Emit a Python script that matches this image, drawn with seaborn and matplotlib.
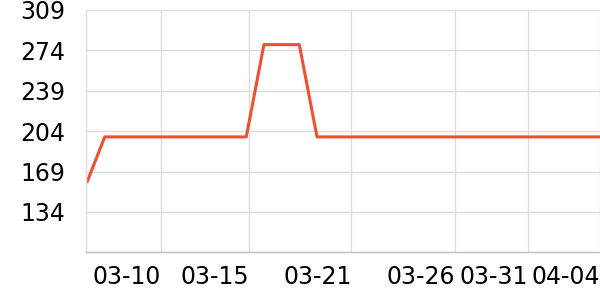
import matplotlib
matplotlib.use("Agg")
import matplotlib.pyplot as plt
import seaborn as sns
import pandas as pd

# data (categorical index positions, one per sample)
idx = list(range(30))
values = [160, 199, 199, 199, 199, 199, 199, 199, 199, 199,
          279, 279, 279, 199, 199, 199, 199, 199, 199, 199,
          199, 199, 199, 199, 199, 199, 199, 199, 199, 199]
x_tick_labels = ["03-10", "03-15", "03-21", "03-26", "03-31", "04-04"]
x_tick_pos = [4.16, 9.14, 14.95, 20.8, 24.93, 29.0]
y_ticks = [134, 169, 204, 239, 274, 309]

df = pd.DataFrame({"i": idx, "v": values})

sns.set_theme(style="white")
plt.rcParams['font.family'] = ['DejaVu Sans']

fig = plt.figure(figsize=(6, 3), dpi=100)
ax = fig.add_axes([86/600, 1 - 252.3/300, 1 - 86/600, (252.3 - 10)/300])
sns.lineplot(data=df, x="i", y="v", ax=ax, color="#f0502f", linewidth=2.2)

ax.set_xlim(-0.06, 29.0)
ax.set_ylim(99, 309)
ax.set_yticks(y_ticks)
ax.set_yticklabels([str(t) for t in y_ticks])
ax.set_xticks(x_tick_pos)
ax.set_xticklabels(x_tick_labels, ha="right")
ax.set_xlabel("")
ax.set_ylabel("")

ax.grid(True, color="#dddddd", linewidth=1)
ax.set_axisbelow(True)
for s in ["top", "right"]:
    ax.spines[s].set_visible(False)
ax.spines["left"].set_color("#dddddd")
ax.spines["left"].set_linewidth(1)
ax.spines["bottom"].set_color("#bbbbbb")
ax.spines["bottom"].set_linewidth(1)

ax.tick_params(axis="y", length=0, pad=15, labelsize=17, labelcolor="black")
ax.tick_params(axis="x", length=3, width=1, color="#cccccc", pad=6,
               labelsize=17, labelcolor="black", direction="out")

fig.savefig("out.png", dpi=100)
